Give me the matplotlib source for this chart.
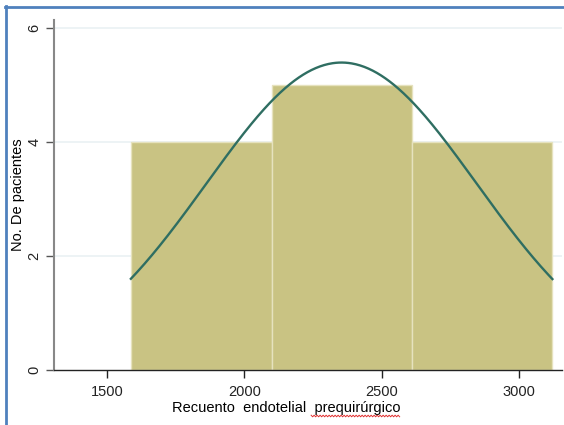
import numpy as np
import matplotlib
matplotlib.use("Agg")
import matplotlib.pyplot as plt
from matplotlib.lines import Line2D

# Data
bin_edges = [1587, 2100, 2609, 3122]
counts = [4, 5, 4]
mean_val = 2354
sd_val = 492
n_total = 13
x_ticks = [1500, 2000, 2500, 3000]
y_ticks = [0, 2, 4, 6]
xlabel = "Recuento  endotelial  prequirúrgico"
ylabel = "No. De pacientes"

plt.rcParams['font.family'] = ['Liberation Sans', 'DejaVu Sans']

fig = plt.figure(figsize=(5.64, 4.25), dpi=100)
ax = fig.add_axes([54/564, 55/425, (562-54)/564, (370-20)/425])

# grid
for yt in y_ticks[1:]:
    ax.axhline(yt, color='#EAF1F3', lw=1.2, zorder=0)

widths = np.diff(bin_edges)
ax.bar(bin_edges[:-1], counts, width=widths, align='edge',
       color='#C9C383', edgecolor='#E6E2BE', linewidth=1.0, zorder=2)

bw = np.mean(widths)
xs = np.linspace(bin_edges[0], bin_edges[-1], 400)
ys = n_total * bw / (sd_val * np.sqrt(2*np.pi)) * np.exp(-0.5*((xs-mean_val)/sd_val)**2)
ax.plot(xs, ys, color='#2F6E62', lw=1.7, zorder=3)

ax.set_xlim(1307, 3157)
ax.set_ylim(0, 6.14)
ax.set_xticks(x_ticks)
ax.set_yticks(y_ticks)
ax.set_yticklabels([str(v) for v in y_ticks], rotation=90, va='center')
ax.tick_params(axis='both', labelsize=10.5, length=6, width=1, colors='#222222')
ax.tick_params(axis='y', color='#555555', pad=3)
ax.tick_params(axis='x', pad=5)

for s in ['top', 'right']:
    ax.spines[s].set_visible(False)
ax.spines['left'].set_color('#888888')
ax.spines['left'].set_linewidth(1.5)
ax.spines['bottom'].set_color('#222222')
ax.spines['bottom'].set_linewidth(1.0)

ax.set_ylabel(ylabel, fontsize=10.5, labelpad=2)
xl = ax.set_xlabel(xlabel, fontsize=10.5)
ax.xaxis.set_label_coords((286-54)/508, -(408-370)/350, transform=ax.transAxes)
xl.set_va('center')

# blue frame
fig.add_artist(Line2D([5.5/564, 5.5/564], [0, 1 - 6/425], transform=fig.transFigure,
                      color='#4F81BD', lw=2))
fig.add_artist(Line2D([5/564, 1], [1 - 6.5/425, 1 - 6.5/425], transform=fig.transFigure,
                      color='#4F81BD', lw=2))

# spell-check squiggle under last word
fig.canvas.draw()
r = fig.canvas.get_renderer()
bb = xl.get_window_extent(r)
x0 = bb.x1 - (bb.x1 - bb.x0) * 0.39
x1 = bb.x1
yb = bb.y0 - 1
xx = np.arange(x0, x1, 1.5)
yy = yb + np.where(np.arange(len(xx)) % 2 == 0, 0.8, -0.8)
fig.add_artist(Line2D(xx / fig.bbox.width, yy / fig.bbox.height, transform=fig.transFigure,
                      color='#E03030', lw=0.7))

fig.savefig("out.png", dpi=100)
